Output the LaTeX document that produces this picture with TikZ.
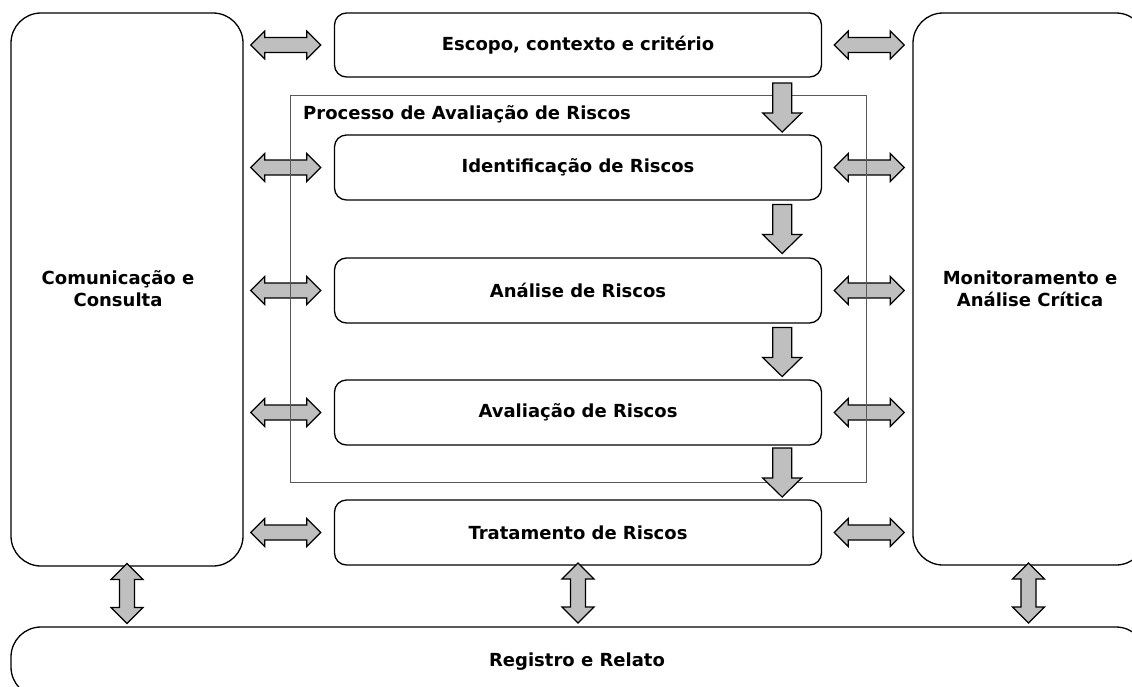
\documentclass[tikz,border=0pt]{standalone}
\usepackage{fontspec}
\setmainfont{DejaVu Sans}
\usetikzlibrary{calc}
\begin{document}
\begin{tikzpicture}[x=1pt,y=-1pt,
  txt/.style={font=\bfseries\fontsize{18}{22}\selectfont, align=center, inner sep=0pt},
  box/.style={txt, draw=black, line width=1.3pt, rounded corners=12pt},
  big/.style={draw=black, line width=1.3pt, rounded corners=30pt, inner sep=0pt},
  blk/.style={draw=black, line width=1.2pt, fill=gray!50, line join=miter},
  frame/.style={draw=black!65, line width=0.9pt},
  harrow/.pic={\draw[blk] (-35,0) -- (-21,-14) -- (-21,-7.5) -- (21,-7.5) -- (21,-14) -- (35,0) -- (21,14) -- (21,7.5) -- (-21,7.5) -- (-21,14) -- cycle;},
  varrow/.pic={\draw[blk] (0,-30) -- (16,-14) -- (7.5,-14) -- (7.5,14) -- (16,14) -- (0,30) -- (-16,14) -- (-7.5,14) -- (-7.5,-14) -- (-16,-14) -- cycle;},
  darrow/.pic={\draw[blk] (-9.5,-24.5) -- (9.5,-24.5) -- (9.5,5.5) -- (19.5,5.5) -- (0,24.5) -- (-19.5,5.5) -- (-9.5,5.5) -- cycle;}
]
\useasboundingbox (0,0) rectangle (1132,686);
\clip (0,0) rectangle (1132,686);

% big side boxes
\node[big, minimum width=232pt, minimum height=553pt] (C) at (127,289.5) {};
\node[txt] (Ct) at (118,289) {Comunicação e\\Consulta};
\node[big, minimum width=233pt, minimum height=552pt] (M) at (1029.5,289) {};
\node[txt] (Mt) at (1030,289) {Monitoramento e\\Análise Crítica};

% central process boxes
\node[box, minimum width=487pt, minimum height=64pt] (E) at (578,45) {Escopo, contexto e critério};
\node[box, minimum width=487pt, minimum height=65pt] (I) at (578,167.5) {Identificação de Riscos};
\node[box, minimum width=487pt, minimum height=65pt] (A) at (578,290.5) {Análise de Riscos};
\node[box, minimum width=487pt, minimum height=65pt] (V) at (578,412.5) {Avaliação de Riscos};
\node[box, minimum width=487pt, minimum height=65pt] (T) at (578,532.5) {Tratamento de Riscos};

% bottom box
\node[big, minimum width=1135pt, minimum height=70pt] (R) at (578.5,662) {};
\node[txt] (Rt) at (577,662) {Registro e Relato};

% horizontal double arrows
\foreach \n in {E,I,A,V,T}{
  \path ($(C.east|-\n.west)!0.5!(\n.west)$) ++(-3,0) pic {harrow};
  \path ($(\n.east)!0.5!(M.west|-\n.east)$) ++(2,0) pic {harrow};
}

% assessment frame
\node[frame, minimum width=576pt, minimum height=387pt, inner sep=0pt] (P) at (578,288.5) {};
\node[txt, anchor=west] (Pt) at (303,114) {Processo de Avaliação de Riscos};

% down arrows
\path ($(E.south east)!0.5!(I.north east)$) ++(-40,1.5) pic {darrow};
\path ($(I.south east)!0.5!(A.north east)$) ++(-40,0) pic {darrow};
\path ($(A.south east)!0.5!(V.north east)$) ++(-40,0.5) pic {darrow};
\path ($(V.south east)!0.5!(T.north east)$) ++(-40,0) pic {darrow};

% vertical double arrows
\path ($(C.south)!0.5!(R.north-|C.south)$) ++(0,-3) pic {varrow};
\path ($(T.south)!0.5!(R.north-|T.south)$) ++(0,-3) pic {varrow};
\path ($(M.south)!0.5!(R.north-|M.south)$) ++(-1,-3) pic {varrow};
\end{tikzpicture}
\end{document}
